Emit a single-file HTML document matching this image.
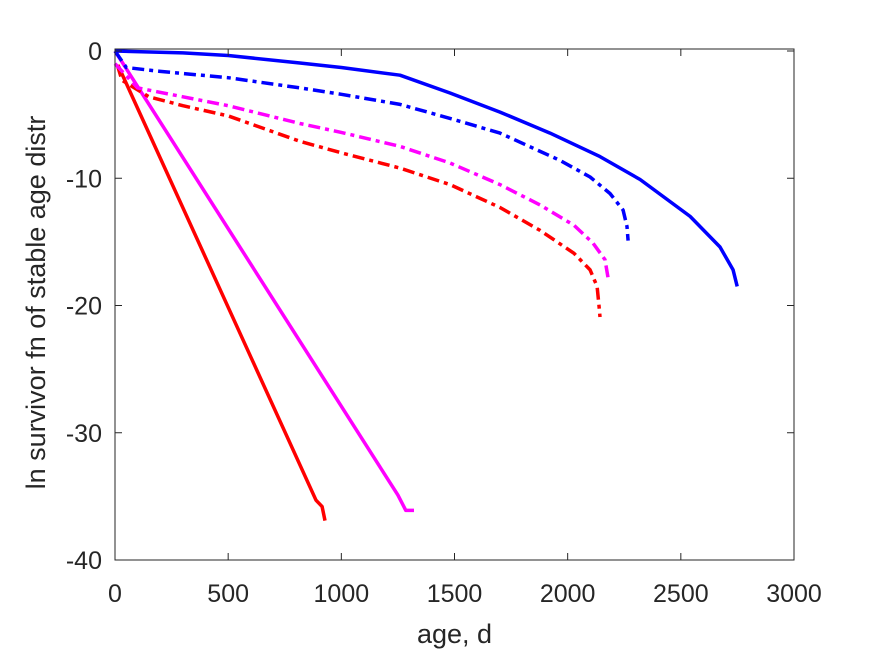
<!DOCTYPE html>
<html><head><meta charset="utf-8"><style>
body{margin:0;background:#fff;}
svg text{font-family:"Liberation Sans",Arial,sans-serif;fill:#262626;}
</style></head><body>
<svg id="chart" width="875" height="656" viewBox="0 0 875 656" xmlns="http://www.w3.org/2000/svg">
<rect width="875" height="656" fill="#fff"/>
<g id="plot"></g>
<g id="axes"></g>
</svg>
<script>
const xTicks=[0,500,1000,1500,2000,2500,3000];
const yTicks=[0,-10,-20,-30,-40];
const blueSolidX=[0,300,500,817,1000,1259,1480,1701,1922,2143,2320,2541,2673,2731,2749];
const blueSolidY=[0,-0.15,-0.35,-0.94,-1.3,-1.9,-3.3,-4.8,-6.45,-8.3,-10.1,-13.0,-15.4,-17.2,-18.5];
const blueDashX=[0,50,200,500,817,1000,1259,1480,1701,1966,2099,2187,2245,2262,2267];
const blueDashY=[0,-1.3,-1.6,-2.1,-2.9,-3.4,-4.2,-5.3,-6.45,-8.6,-9.9,-11.2,-12.5,-13.8,-14.9];
const magDashX=[0,100,300,500,817,1000,1259,1480,1701,1878,2028,2112,2165,2178];
const magDashY=[-1.0,-2.9,-3.6,-4.3,-5.7,-6.4,-7.5,-8.8,-10.5,-12.1,-13.7,-15.1,-16.4,-17.8];
const redDashX=[10,31,150,300,500,817,1000,1259,1480,1701,1878,2028,2099,2130,2139,2143];
const redDashY=[-1.1,-2.3,-3.6,-4.3,-5.1,-7.1,-8.0,-9.2,-10.5,-12.3,-14.1,-15.9,-17.2,-18.5,-20.1,-20.9];
const redSolidX=[13,888,915,928];
const redSolidY=[-1.1,-35.3,-35.8,-36.9];
const magSolidX=[0,1250,1285,1321];
const magSolidY=[0,-34.9,-36.1,-36.1];

const X0=115,X1=794,Y0=51,Y1=560;
const sx=v=>X0+(v-0)/(3000)*(X1-X0);
const sy=v=>Y0+(0-v)/40*(Y1-Y0);
const NS="http://www.w3.org/2000/svg";
const plot=document.getElementById('plot'),axes=document.getElementById('axes');
function mk(tag,attrs,parent){const e=document.createElementNS(NS,tag);for(const k in attrs)e.setAttribute(k,attrs[k]);parent.appendChild(e);return e;}

const series=[
 ['red-solid-line',redSolidX,redSolidY,'#ff0000',null],
 ['magenta-solid-line',magSolidX,magSolidY,'#ff00ff',null],
 ['red-dashdot-line',redDashX,redDashY,'#ff0000','12,5,4,5'],
 ['magenta-dashdot-line',magDashX,magDashY,'#ff00ff','12,5,4,5'],
 ['blue-dashdot-line',blueDashX,blueDashY,'#0000ff','12,5,4,5'],
 ['blue-solid-line',blueSolidX,blueSolidY,'#0000ff',null]
];
series.forEach(s=>{
  const pts=s[1].map((x,i)=>sx(x).toFixed(1)+','+sy(s[2][i]).toFixed(1)).join(' ');
  const p=mk('polyline',{points:pts,fill:'none',stroke:s[3],'stroke-width':3.5,'stroke-linejoin':'round'},plot);
  if(s[4])p.setAttribute('stroke-dasharray',s[4]);
  
  
});

const box=mk('rect',{x:X0,y:Y0-2,width:X1-X0,height:Y1-Y0+2,fill:'none',stroke:'#262626','stroke-width':1},axes);


xTicks.forEach(t=>{
  const x=sx(t);
  mk('line',{x1:x,x2:x,y1:Y1,y2:Y1-7,stroke:'#262626'},axes);
  mk('line',{x1:x,x2:x,y1:Y0-2,y2:Y0+5,stroke:'#262626'},axes);
  const tx=mk('text',{x:x,y:Y1+42,'text-anchor':'middle','font-size':25},axes);
  tx.textContent=t;
  
  
});
yTicks.forEach(t=>{
  const y=sy(t);
  mk('line',{x1:X0,x2:X0+7,y1:y,y2:y,stroke:'#262626'},axes);
  mk('line',{x1:X1,x2:X1-7,y1:y,y2:y,stroke:'#262626'},axes);
  const tx=mk('text',{x:X0-13,y:y+9,'text-anchor':'end','font-size':25},axes);
  tx.textContent=t;
  
  
});
const xl=mk('text',{x:(X0+X1)/2,y:643,'text-anchor':'middle','font-size':27},axes);
xl.textContent='age, d';


const yl=mk('text',{x:0,y:0,'text-anchor':'middle','font-size':27,transform:'translate(45,'+((Y0+Y1)/2-3)+') rotate(-90)'},axes);
yl.textContent='ln survivor fn of stable age distr';


</script>
</body></html>
